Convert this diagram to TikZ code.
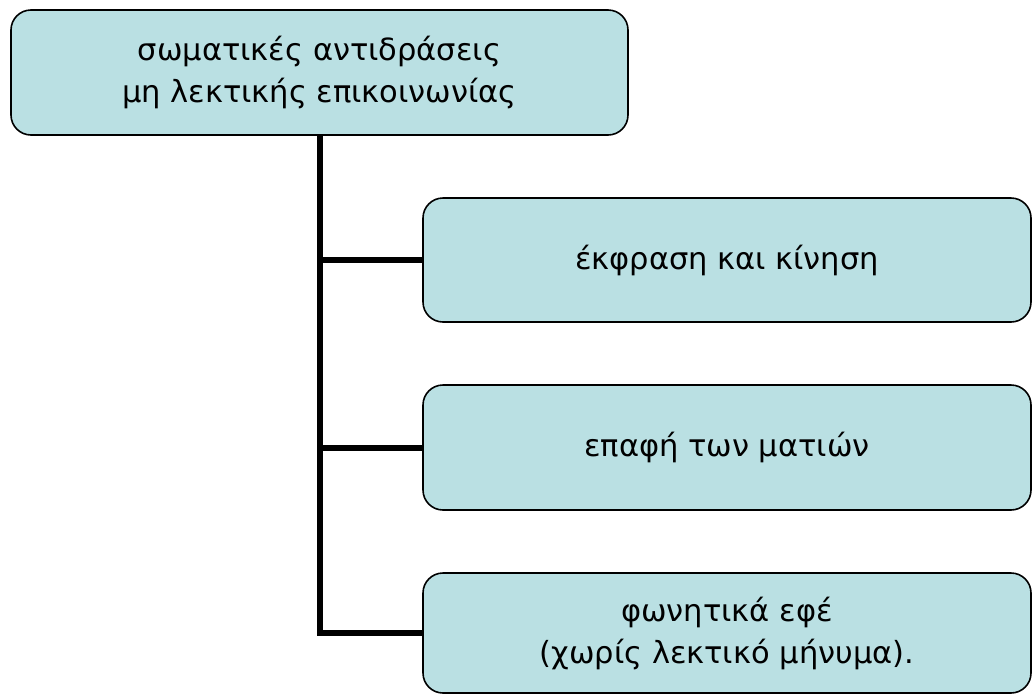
\documentclass[tikz,border=0pt]{standalone}
\usepackage{fontspec}
\setmainfont{DejaVu Sans}
\definecolor{boxfill}{RGB}{186,224,227}
\begin{document}
\begin{tikzpicture}[x=1pt,y=-1pt,
  box/.style={draw=black, line width=1.6pt, fill=boxfill, rounded corners=20pt,
    align=center, inner sep=0pt, font=\fontsize{30.5}{42}\selectfont},
  conn/.style={line width=6pt, draw=black}]
\useasboundingbox (0,0) rectangle (1033,694);
\node[box, minimum width=617pt, minimum height=125pt] (top) at (319.5,72.5)
  {σωματικές αντιδράσεις\\μη λεκτικής επικοινωνίας};
\node[box, minimum width=608pt, minimum height=124pt] (b1) at (727,260)
  {έκφραση και κίνηση};
\node[box, minimum width=608pt, minimum height=125pt] (b2) at (727,447.5)
  {επαφή των ματιών};
\node[box, minimum width=608pt, minimum height=120pt] (b3) at (727,633)
  {φωνητικά εφέ\\(χωρίς λεκτικό μήνυμα).};
\draw[conn] (top.south) -- (top.south |- b3.west) -- (b3.west);
\draw[conn] (top.south |- b1.west) -- (b1.west);
\draw[conn] (top.south |- b2.west) -- (b2.west);
\end{tikzpicture}
\end{document}
